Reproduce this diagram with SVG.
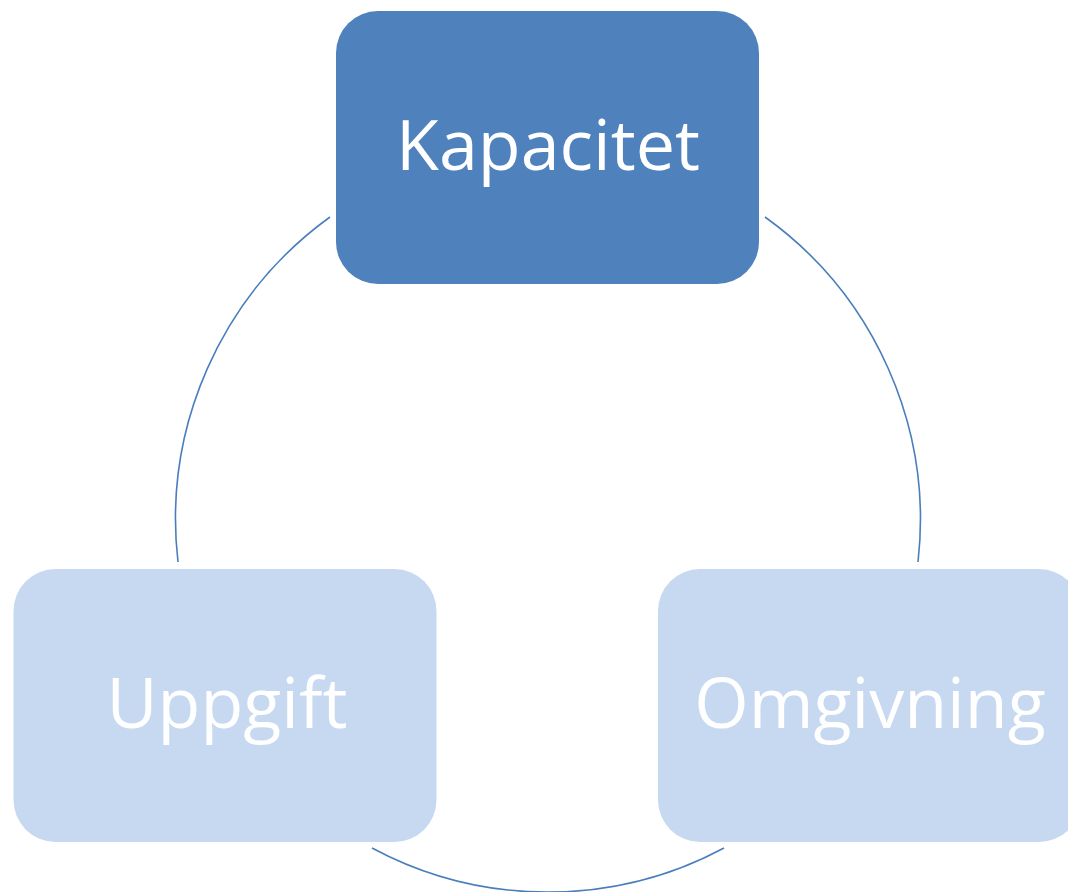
<svg xmlns="http://www.w3.org/2000/svg" width="1068" height="892" viewBox="0 0 1068 892">
  <style>
    .arc { fill: none; stroke: #4a7ebb; stroke-width: 1.6; }
    .box-main { fill: #4f81bd; }
    .box-sub { fill: #c6d9f0; }
    .label { font-family: "Open Sans", "Liberation Sans", sans-serif; font-size: 70px; fill: #ffffff; text-anchor: middle; }
  </style>
  <rect width="1068" height="892" fill="#ffffff"/>
  <g id="connectors">
    <path class="arc" d="M330,217 A373,373 0 0 0 178,562"/>
    <path class="arc" d="M765,217 A373,373 0 0 1 918,562"/>
    <path class="arc" d="M724,848 A373,373 0 0 1 372,848"/>
  </g>
  <g id="kapacitet">
    <rect class="box-main" x="336" y="11" width="423" height="273" rx="42" ry="42"/>
    <text class="label" x="548" y="170">Kapacitet</text>
  </g>
  <g id="uppgift">
    <rect class="box-sub" x="13.5" y="569" width="423" height="273" rx="42" ry="42"/>
    <text class="label" x="227" y="728">Uppgift</text>
  </g>
  <g id="omgivning">
    <rect class="box-sub" x="658" y="569" width="423" height="273" rx="42" ry="42"/>
    <text class="label" x="870" y="728">Omgivning</text>
  </g>
</svg>
